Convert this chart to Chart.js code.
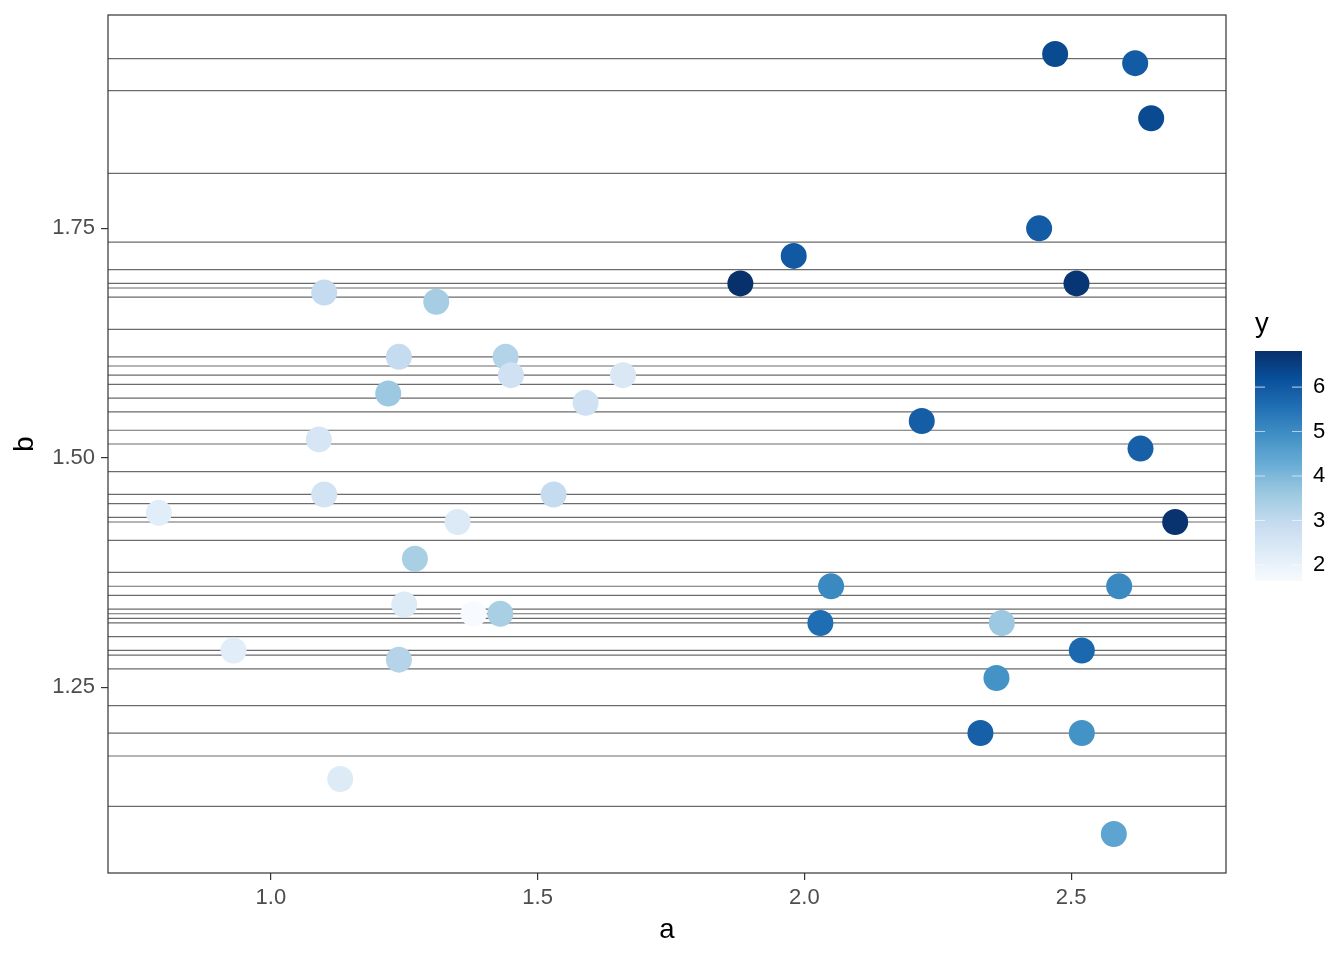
<!DOCTYPE html>
<html>
<head>
<meta charset="utf-8">
<script src="https://cdn.jsdelivr.net/npm/chart.js"></script>
<style>
  body { margin: 0; background: #fff; }
  canvas { display: block; }
</style>
</head>
<body>
<canvas id="scatterChart" width="1344" height="960"></canvas>
<script>
// values
const aVals = [0.79, 0.93, 1.09, 1.10, 1.10, 1.13, 1.22, 1.24, 1.24, 1.25, 1.27, 1.31, 1.35, 1.38, 1.43, 1.44, 1.45, 1.53, 1.59, 1.66,
               1.88, 1.98, 2.03, 2.05, 2.22, 2.33, 2.36, 2.37, 2.44, 2.47, 2.51, 2.52, 2.52, 2.58, 2.59, 2.62, 2.63, 2.65, 2.695];
const bVals = [1.44, 1.29, 1.52, 1.68, 1.46, 1.15, 1.57, 1.61, 1.28, 1.34, 1.39, 1.67, 1.43, 1.33, 1.33, 1.61, 1.59, 1.46, 1.56, 1.59,
               1.69, 1.72, 1.32, 1.36, 1.54, 1.20, 1.26, 1.32, 1.75, 1.94, 1.69, 1.29, 1.20, 1.09, 1.36, 1.93, 1.51, 1.87, 1.43];
const yVals = [2.2, 2.2, 2.5, 2.95, 2.6, 2.3, 3.6, 2.95, 3.2, 2.3, 3.4, 3.45, 2.35, 1.64, 3.4, 3.25, 2.7, 2.95, 2.7, 2.4,
               6.81, 6.0, 5.6, 5.05, 5.9, 5.85, 4.85, 3.6, 5.95, 6.3, 6.7, 5.7, 4.85, 4.45, 5.05, 5.95, 5.85, 6.3, 6.75];

// horizontal reference lines
const hLines = [1.935, 1.90, 1.81, 1.735, 1.705, 1.69, 1.685, 1.675, 1.64, 1.61, 1.60, 1.59, 1.58, 1.565, 1.55, 1.53, 1.515,
                1.485, 1.46, 1.45, 1.435, 1.43, 1.41, 1.375, 1.36, 1.35, 1.335, 1.33, 1.325, 1.32, 1.305, 1.29, 1.285, 1.27,
                1.23, 1.20, 1.175, 1.12];

const xTicks = [1.0, 1.5, 2.0, 2.5];
const yTicks = [1.25, 1.50, 1.75];
const legendTicks = [2, 3, 4, 5, 6];

const blues = ['#F7FBFF', '#DEEBF7', '#C6DBEF', '#9ECAE1', '#6BAED6', '#4292C6', '#2171B5', '#08519C', '#08306B'];

const FONT = '"Liberation Sans", Arial, Helvetica, sans-serif';
Chart.defaults.font.family = FONT;

const yMin = Math.min(...yVals);
const yMax = Math.max(...yVals);

// colour interpolation in Lab, like ggplot's gradient palettes
function hexToLab(h) {
    const lin = [1, 3, 5].map(k => {
        const c = parseInt(h.slice(k, k + 2), 16) / 255;
        return c <= 0.04045 ? c / 12.92 : Math.pow((c + 0.055) / 1.055, 2.4);
    });
    const [r, g, b] = lin;
    const X = (0.4124564 * r + 0.3575761 * g + 0.1804375 * b) / 0.95047;
    const Y = 0.2126729 * r + 0.7151522 * g + 0.0721750 * b;
    const Z = (0.0193339 * r + 0.1191920 * g + 0.9503041 * b) / 1.08883;
    const f = t => t > 0.008856 ? Math.cbrt(t) : 7.787 * t + 16 / 116;
    const fx = f(X), fy = f(Y), fz = f(Z);
    return [116 * fy - 16, 500 * (fx - fy), 200 * (fy - fz)];
}

function labToRgb([L, A, B]) {
    const fy = (L + 16) / 116, fx = fy + A / 500, fz = fy - B / 200;
    const inv = t => t * t * t > 0.008856 ? t * t * t : (t - 16 / 116) / 7.787;
    const X = 0.95047 * inv(fx), Y = inv(fy), Z = 1.08883 * inv(fz);
    const lin = [
        3.2404542 * X - 1.5371385 * Y - 0.4985314 * Z,
        -0.9692660 * X + 1.8760108 * Y + 0.0415560 * Z,
        0.0556434 * X - 0.2040259 * Y + 1.0572252 * Z
    ];
    return lin.map(c => {
        c = c <= 0.0031308 ? 12.92 * c : 1.055 * Math.pow(c, 1 / 2.4) - 0.055;
        return Math.round(Math.max(0, Math.min(1, c)) * 255);
    });
}

const bluesLab = blues.map(hexToLab);

function colorAt(t) {
    t = Math.max(0, Math.min(1, t));
    const pos = t * (bluesLab.length - 1);
    const i = Math.min(Math.floor(pos), bluesLab.length - 2);
    const f = pos - i;
    const c0 = bluesLab[i], c1 = bluesLab[i + 1];
    const lab = c0.map((v, k) => v + (c1[k] - v) * f);
    return 'rgb(' + labToRgb(lab).join(',') + ')';
}

function colorFor(y) {
    return colorAt((y - yMin) / (yMax - yMin));
}

// ggplot-like 5% expansion of the data range
function expand(vals) {
    const lo = Math.min(...vals), hi = Math.max(...vals);
    const pad = (hi - lo) * 0.05;
    return [lo - pad, hi + pad];
}
const [xMin, xMax] = expand(aVals);
const [bMin, bMax] = expand(bVals);

function noScalePadding(s) {
    s.paddingTop = 0;
    s.paddingBottom = 0;
    s.paddingLeft = 0;
    s.paddingRight = 0;
}

// reference lines under the points, panel border and colour bar on top
const decorations = {
    id: 'decorations',
    beforeDatasetsDraw(chart) {
        const {ctx, chartArea, scales} = chart;
        ctx.save();
        ctx.strokeStyle = '#6b6b6b';
        ctx.lineWidth = 1.2;
        hLines.forEach(v => {
            const py = scales.y.getPixelForValue(v);
            ctx.beginPath();
            ctx.moveTo(chartArea.left, py);
            ctx.lineTo(chartArea.right, py);
            ctx.stroke();
        });
        ctx.restore();
    },
    afterDatasetsDraw(chart) {
        const {ctx, chartArea} = chart;
        ctx.save();
        ctx.strokeStyle = '#333333';
        ctx.lineWidth = 1.2;
        ctx.strokeRect(chartArea.left, chartArea.top, chartArea.right - chartArea.left, chartArea.bottom - chartArea.top);
        ctx.restore();
    },
    afterDraw(chart) {
        const {ctx} = chart;
        const bar = {x: 1255, y: 351, w: 47, h: 230};
        ctx.save();
        const grad = ctx.createLinearGradient(0, bar.y + bar.h, 0, bar.y);
        for (let i = 0; i <= 40; i++) grad.addColorStop(i / 40, colorAt(i / 40));
        ctx.fillStyle = grad;
        ctx.fillRect(bar.x, bar.y, bar.w, bar.h);

        ctx.strokeStyle = 'rgba(255,255,255,0.6)';
        ctx.lineWidth = 1.2;
        ctx.fillStyle = '#000';
        ctx.font = '22px ' + FONT;
        ctx.textBaseline = 'middle';
        ctx.textAlign = 'left';
        legendTicks.forEach(v => {
            const py = bar.y + bar.h * (1 - (v - yMin) / (yMax - yMin));
            ctx.beginPath();
            ctx.moveTo(bar.x, py); ctx.lineTo(bar.x + 10, py);
            ctx.moveTo(bar.x + bar.w - 10, py); ctx.lineTo(bar.x + bar.w, py);
            ctx.stroke();
            ctx.fillText(String(v), bar.x + bar.w + 11, py);
        });

        ctx.font = '27.5px ' + FONT;
        ctx.textBaseline = 'alphabetic';
        ctx.fillText('y', bar.x, 332);
        ctx.restore();
    }
};

const ctx = document.getElementById('scatterChart').getContext('2d');
new Chart(ctx, {
    type: 'scatter',
    data: {
        datasets: [{
            data: aVals.map((a, i) => ({x: a, y: bVals[i]})),
            backgroundColor: yVals.map(colorFor),
            borderWidth: 0,
            pointRadius: 13,
            pointHoverRadius: 13
        }]
    },
    options: {
        responsive: false,
        animation: false,
        devicePixelRatio: 1,
        events: [],
        layout: { padding: { left: 0, top: 15, right: 118, bottom: 0 } },
        plugins: {
            legend: { display: false },
            tooltip: { enabled: false }
        },
        scales: {
            x: {
                type: 'linear',
                min: xMin,
                max: xMax,
                afterBuildTicks: s => { s.ticks = xTicks.map(v => ({value: v})); },
                afterFit: s => { s.height = 87; noScalePadding(s); },
                ticks: {
                    callback: v => v.toFixed(1),
                    color: '#4d4d4d',
                    font: { size: 22 },
                    padding: 5,
                    maxRotation: 0,
                    autoSkip: false
                },
                grid: { drawOnChartArea: false, tickLength: 7, color: '#333333', lineWidth: 1.2 },
                border: { display: false },
                title: { display: true, text: 'a', color: '#000', font: { size: 27.5 }, padding: { top: 0, bottom: 13 } }
            },
            y: {
                type: 'linear',
                min: bMin,
                max: bMax,
                afterBuildTicks: s => { s.ticks = yTicks.map(v => ({value: v})); },
                afterFit: s => { s.width = 108; noScalePadding(s); },
                ticks: {
                    callback: v => v.toFixed(2),
                    color: '#4d4d4d',
                    font: { size: 22 },
                    padding: 6,
                    autoSkip: false
                },
                grid: { drawOnChartArea: false, tickLength: 7, color: '#333333', lineWidth: 1.2 },
                border: { display: false },
                title: { display: true, text: 'b', color: '#000', font: { size: 27.5 }, padding: { top: 8.5, bottom: 0 } }
            }
        }
    },
    plugins: [decorations]
});
</script>
</body>
</html>
